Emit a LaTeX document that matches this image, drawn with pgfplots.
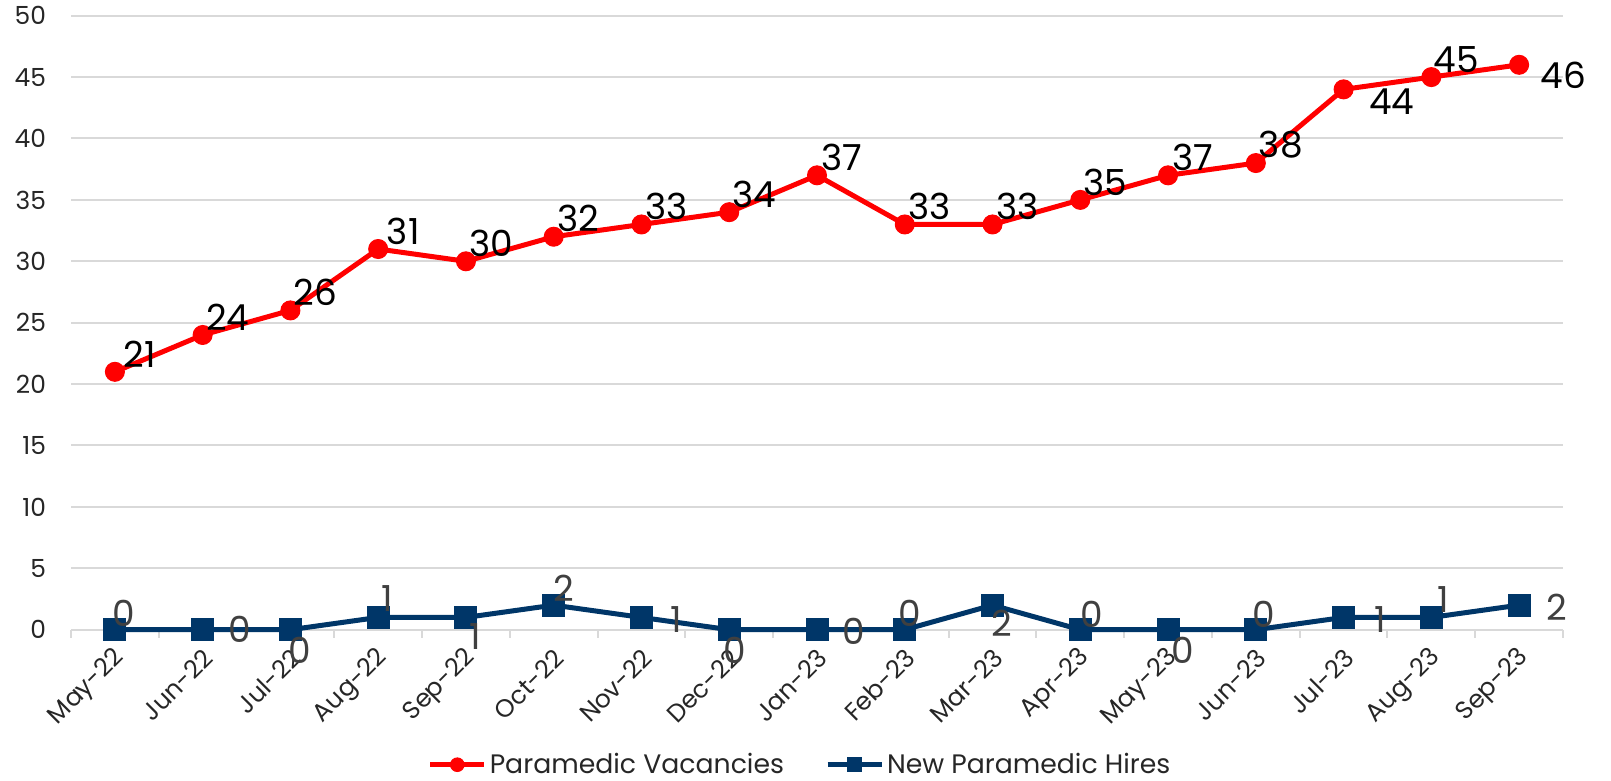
\documentclass[border=0pt]{standalone}
\usepackage{pgfplots}
\usepackage{pgfplotstable}
\pgfplotsset{compat=1.18}
\usepackage{fontspec}
\setmainfont{Poppins}

\definecolor{vacred}{RGB}{255,0,0}
\definecolor{hirenavy}{RGB}{0,54,104}
\definecolor{gridgray}{RGB}{217,217,217}
\definecolor{labelgray}{RGB}{64,64,64}

% x = month index (0 = May-22), y = value, dx/dy = label offset in bp
\pgfplotstableread{
x y  dx   dy
0 21 12.5 9
1 24 12.5 9
2 26 12.5 9
3 31 12.5 9
4 30 12.5 9
5 32 12.5 9
6 33 12.5 9
7 34 12.5 9
8 37 12.5 9
9 33 12.5 9
10 33 12.5 9
11 35 12.5 9
12 37 12.5 9
13 38 12.5 9
14 44 24 -6
15 45 12.5 9
16 46 22 -5
}\vacancies

\pgfplotstableread{
x y dx   dy
0 0 4.6  8.2
1 0 18.5 0
2 0 4.6  -10.3
3 1 4.6  9.2
4 1 4.6  -9.7
5 2 5.1  8.2
6 1 17.4 -1
7 0 2.6  -10.3
8 0 18.5 -1
9 0 2.6  8.2
10 2 4.6 -9.2
11 0 5.6 7.7
12 0 7.2 -10.3
13 0 4.1 7.7
14 1 18.5 -1
15 1 6   9
16 2 19  -1
}\hires

\begin{document}
\begin{tikzpicture}
\begin{axis}[
    name=main,
    scale only axis,
    width=746bp, height=307bp,
    xmin=-0.5, xmax=16.5,
    ymin=0, ymax=50,
    xtick={0,...,16},
    xticklabels={May-22,Jun-22,Jul-22,Aug-22,Sep-22,Oct-22,Nov-22,Dec-22,
                 Jan-23,Feb-23,Mar-23,Apr-23,May-23,Jun-23,Jul-23,Aug-23,Sep-23},
    minor xtick={-0.5,0.5,...,16.5},
    ytick={0,5,...,50},
    axis x line*=bottom,
    axis y line*=left,
    x axis line style={draw=gridgray, line width=1bp},
    y axis line style={draw=none},
    ymajorgrids,
    major grid style={draw=gridgray, line width=1bp},
    major tick length=0pt,
    minor tick length=4bp,
    tick align=outside,
    minor tick style={draw=gridgray, line width=1bp},
    /pgf/number format/assume math mode=true,
    yticklabel style={font=\fontsize{12.5}{15}\selectfont, text=black!85, xshift=-9bp},
    xticklabel style={font=\fontsize{12.5}{15}\selectfont, text=black!85,
                      yshift=-12bp, xshift=3bp, rotate=45, anchor=east, inner sep=0pt},
    legend columns=2,
    legend style={at={(0.489,0)}, anchor=center, yshift=-67.5bp, draw=none, fill=none,
                  font=\fontsize{13.4}{16}\selectfont, text=black!85,
                  /tikz/every even column/.append style={column sep=19bp},
                  nodes={inner xsep=1.5bp},
                  inner sep=0pt},
    legend image code/.code={%
        \draw[mark repeat=2, mark phase=2, #1, mark size=3.4bp]
            plot coordinates {(0bp,0bp) (13.5bp,0bp) (27bp,0bp)};},
    clip=false,
]

\addplot[
    color=vacred,
    line width=2.5bp,
    mark=*,
    mark size=4.75bp,
    mark options={solid, fill=vacred, line width=0.5bp},
    point meta=y,
    nodes near coords,
    visualization depends on={\thisrow{dx}\as\ldx},
    visualization depends on={\thisrow{dy}\as\ldy},
    every node near coord/.append style={anchor=center, xshift=\ldx bp, yshift=\ldy bp,
        font=\fontsize{18}{20}\selectfont, text=black, inner sep=0pt},
] table[x=x, y=y] {\vacancies};
\addlegendentry{Paramedic Vacancies}

\addplot[
    color=hirenavy,
    line width=2.5bp,
    mark=square*,
    mark size=5.5bp,
    mark options={solid, fill=hirenavy, line width=0.5bp},
    point meta=y,
    nodes near coords,
    visualization depends on={\thisrow{dx}\as\ldx},
    visualization depends on={\thisrow{dy}\as\ldy},
    every node near coord/.append style={anchor=center, xshift=\ldx bp, yshift=\ldy bp,
        font=\fontsize{18}{20}\selectfont, text=labelgray, inner sep=0pt},
] table[x=x, y=y] {\hires};
\addlegendentry{New Paramedic Hires}

\end{axis}
\pgfresetboundingbox
\path ([shift={(-35.5bp,-75.5bp)}]main.south west) rectangle ([shift={(24bp,7.85bp)}]main.north east);
\end{tikzpicture}
\end{document}
